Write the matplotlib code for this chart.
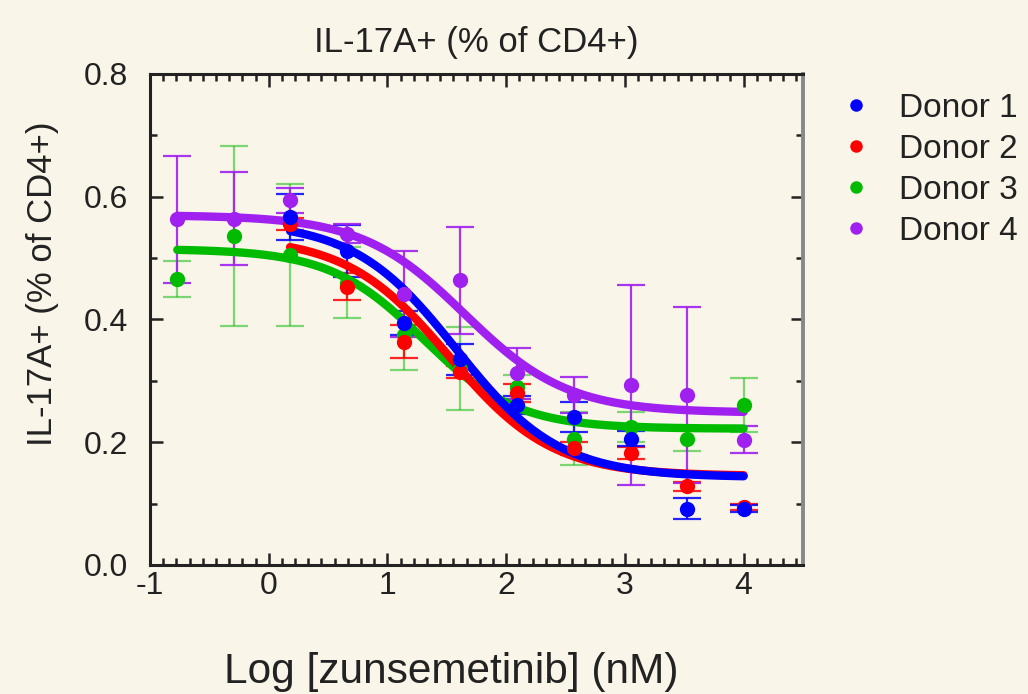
import numpy as np
import matplotlib
matplotlib.use("Agg")
import matplotlib.pyplot as plt
from matplotlib.lines import Line2D
from matplotlib.ticker import MultipleLocator, AutoMinorLocator

plt.rcParams.update(
    {
        "font.family": ["Liberation Sans", "DejaVu Sans"],
        "text.color": "#222222",
        "axes.labelcolor": "#222222",
        "xtick.color": "#222222",
        "ytick.color": "#222222",
        "axes.unicode_minus": False,
    }
)

BG = "#F9F5E8"

# ============================================================
# Data (log10 of nM concentration, 3-fold dilutions)
# ============================================================
log_conc = [-0.77, -0.29, 0.18, 0.66, 1.14, 1.61, 2.09, 2.57, 3.05, 3.52, 4.00]

donor_names = ["Donor 1", "Donor 2", "Donor 3", "Donor 4"]
donor_colors = ["#0000FF", "#FF0000", "#00BB00", "#A020F0"]

# Donors 1 and 2 start at the third concentration
d1_x = log_conc[2:]
d1_y = [0.567, 0.512, 0.394, 0.335, 0.261, 0.241, 0.206, 0.092, 0.092]
d1_err = [0.037, 0.042, 0.020, 0.025, 0.015, 0.025, 0.012, 0.017, 0.005]

d2_x = log_conc[2:]
d2_y = [0.556, 0.453, 0.364, 0.315, 0.280, 0.190, 0.183, 0.128, 0.095]
d2_err = [0.010, 0.022, 0.027, 0.010, 0.015, 0.010, 0.010, 0.008, 0.005]

d3_x = log_conc
d3_y = [0.466, 0.536, 0.505, 0.460, 0.375, 0.320, 0.290, 0.206, 0.225, 0.206, 0.261]
d3_err = [0.030, 0.146, 0.115, 0.058, 0.058, 0.068, 0.020, 0.043, 0.025, 0.020, 0.044]

d4_x = log_conc
d4_y = [0.563, 0.564, 0.594, 0.540, 0.442, 0.464, 0.312, 0.277, 0.293, 0.277, 0.204]
d4_err = [0.104, 0.076, 0.020, 0.015, 0.070, 0.087, 0.042, 0.030, 0.163, 0.143, 0.022]

# 4PL fit parameters: top, bottom, logIC50, hill
fit_top = [0.560, 0.535, 0.515, 0.570]
fit_bottom = [0.143, 0.145, 0.222, 0.248]
fit_logic50 = [1.58, 1.52, 1.30, 1.65]
fit_hill = [1.0, 1.0, 1.1, 1.0]

err_alpha = [0.85, 0.85, 0.5, 0.9]
# stacking: green under red under blue under purple
layer = [2, 1, 0, 3]

xs = [d1_x, d2_x, d3_x, d4_x]
ys = [d1_y, d2_y, d3_y, d4_y]
errs = [d1_err, d2_err, d3_err, d4_err]


def four_pl(x, top, bottom, logic50, hill):
    return bottom + (top - bottom) / (1.0 + 10 ** ((x - logic50) * hill))


# ============================================================
# Plot
# ============================================================
fig = plt.figure(figsize=(10.28, 6.94), dpi=100, facecolor=BG)
ax = fig.add_axes([0.1459, 0.1859, 0.6352, 0.7075], facecolor=BG)

for i in range(4):
    x = np.array(xs[i])
    y = np.array(ys[i])
    c = donor_colors[i]
    z = layer[i]
    ax.errorbar(
        x, y, yerr=errs[i], fmt="none", ecolor=c, elinewidth=1.6,
        capsize=10, capthick=1.6, alpha=err_alpha[i], zorder=2 + z,
    )
    xf = np.linspace(x.min(), x.max(), 300)
    ax.plot(xf, four_pl(xf, fit_top[i], fit_bottom[i], fit_logic50[i], fit_hill[i]),
            color=c, lw=6, solid_capstyle="round", zorder=6 + z)
    ax.plot(x, y, "o", color=c, ms=11, mec="none", zorder=10 + z)

ax.set_xlim(-1, 4.5)
ax.set_ylim(0, 0.8)
ax.xaxis.set_major_locator(MultipleLocator(1))
ax.xaxis.set_minor_locator(AutoMinorLocator(9))
ax.yaxis.set_major_locator(MultipleLocator(0.2))
ax.yaxis.set_minor_locator(AutoMinorLocator(2))
ax.set_yticklabels([f"{v:.1f}" for v in ax.get_yticks()])

ax.tick_params(which="both", direction="in", top=True, right=True, width=1.8)
ax.tick_params(which="major", length=9)
ax.tick_params(which="minor", length=5)
ax.tick_params(axis="x", labelsize=23, pad=4)
ax.tick_params(axis="y", labelsize=23, pad=16)

for side in ["left", "bottom", "top"]:
    ax.spines[side].set_linewidth(2.2)
    ax.spines[side].set_color("#222222")
ax.spines["right"].set_linewidth(2.8)
ax.spines["right"].set_color("#888888")

ax.set_title("IL-17A+ (% of CD4+)", fontsize=25, pad=16)
fig.text(0.041, 0.5915, "IL-17A+ (% of CD4+)", rotation=90, fontsize=25,
         ha="center", va="center")
fig.text(0.439, 0.032, "Log [zunsemetinib] (nM)", fontsize=30.5,
         ha="center", va="center")

# Legend
handles = [
    Line2D([], [], ls="none", marker="o", ms=9, color=c, mec="none")
    for c in donor_colors
]
fig.legend(handles, donor_names, loc="upper left", bbox_to_anchor=(0.81, 0.885),
           frameon=False, fontsize=24, handlelength=0.6, handletextpad=1.0,
           labelspacing=0.3, borderaxespad=0)

plt.savefig("out.png", dpi=100, facecolor=BG)
